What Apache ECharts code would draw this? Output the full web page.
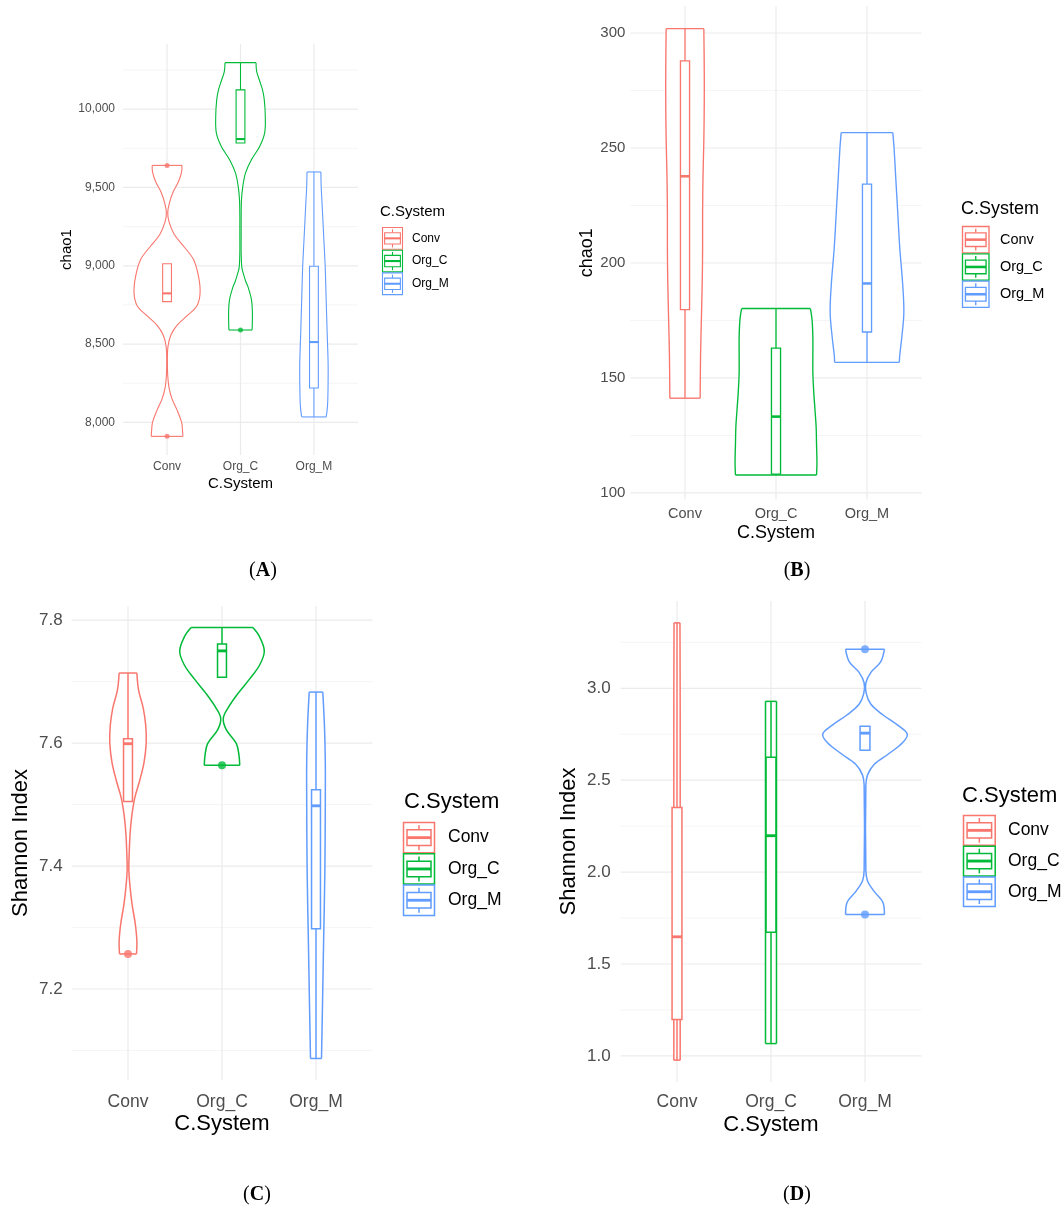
<!DOCTYPE html>
<html><head><meta charset="utf-8">
<script src="https://cdn.jsdelivr.net/npm/echarts@6/dist/echarts.min.js"></script>
<style>html,body{margin:0;padding:0;background:#fff}#c{width:1064px;height:1218px}</style>
</head><body><div id="c"></div>
<script>
// ---------- data ----------
const categories = ['Conv', 'Org_C', 'Org_M'];
const groupColors = ['#F8766D', '#00BA38', '#619CFF'];
const legendTitle = 'C.System';
const xTitle = 'C.System';

// Panel A : chao1
const A_yTicks = [8000, 8500, 9000, 9500, 10000];
const A_yMinor = [8250, 8750, 9250, 9750, 10250];
// violin profiles: [value, relative half width]
const A_Conv = [[9641,.45],[9600,.44],[9540,.35],[9470,.18],[9400,.07],[9338,.02],[9280,.06],[9200,.22],[9120,.52],[9040,.80],[8934,.95],[8828,1.0],[8743,.90],[8680,.60],[8620,.30],[8560,.12],[8488,.03],[8400,.01],[8300,.02],[8220,.06],[8150,.15],[8080,.30],[8000,.44],[7940,.47],[7911,.48]];
const A_OrgC = [[10297,.47],[10240,.49],[10180,.58],[10120,.67],[10059,.72],[9953,.75],[9847,.73],[9762,.58],[9677,.33],[9592,.15],[9507,.07],[9422,.03],[9316,.02],[9200,.02],[9083,.02],[8990,.04],[8955,.08],[8900,.16],[8870,.22],[8785,.33],[8700,.36],[8590,.35]];
const A_OrgM = [[9599,.21],[9500,.22],[9422,.24],[9210,.29],[8997,.34],[8785,.37],[8573,.40],[8361,.43],[8148,.42],[8080,.40],[8035,.37]];
// boxes: [cat, lowWhisker, q1, median, q3, highWhisker]
const A_box = [[0,8771,8771,8824,9013,9013],[1,9784,9784,9809,10123,10297],[2,8035,8220,8513,8997,9599]];
const A_out = [[0,9641],[0,7911],[1,8590]];

// Panel B : chao1
const B_yTicks = [100, 150, 200, 250, 300];
const B_yMinor = [125, 175, 225, 275];
const B_Conv = [[301.9,.46],[284.4,.47],[268.9,.47],[253.3,.46],[237.7,.44],[222.2,.43],[206.6,.43],[191.1,.42],[175.5,.40],[160,.38],[141.2,.37]];
const B_OrgC = [[180.2,.84],[175.5,.88],[167.7,.90],[160,.90],[152.2,.90],[144.4,.92],[136.6,.95],[128.8,.98],[121.1,.99],[113.3,1.0],[107.8,.99]];
const B_OrgM = [[256.7,.63],[250.2,.66],[237.7,.70],[222.2,.75],[206.6,.80],[191.1,.87],[178.6,.90],[167.7,.85],[160,.80],[156.8,.79]];
const B_box = [[0,141.2,179.7,237.7,287.9,301.9],[1,107.8,108.2,133.2,163.0,180.2],[2,156.8,170.0,191.1,234.3,256.7]];
const B_out = [];

// Panel C : Shannon Index
const C_yTicks = [7.2, 7.4, 7.6, 7.8];
const C_yMinor = [7.1, 7.3, 7.5, 7.7];
const C_Conv = [[7.714,.21],[7.686,.25],[7.657,.36],[7.628,.42],[7.600,.43],[7.569,.38],[7.540,.28],[7.511,.16],[7.482,.09],[7.453,.05],[7.424,.03],[7.394,.02],[7.365,.05],[7.336,.10],[7.307,.17],[7.278,.21],[7.257,.20]];
const C_OrgC = [[7.788,.73],[7.774,.88],[7.750,1.0],[7.727,.89],[7.704,.65],[7.680,.37],[7.657,.14],[7.640,.03],[7.622,.10],[7.599,.34],[7.581,.40],[7.564,.42]];
const C_OrgM = [[7.683,.16],[7.628,.20],[7.569,.22],[7.511,.22],[7.394,.21],[7.278,.18],[7.161,.15],[7.087,.13]];
const C_box = [[0,7.505,7.505,7.599,7.607,7.714],[1,7.707,7.707,7.750,7.761,7.788],[2,7.087,7.298,7.498,7.524,7.683]];
const C_out = [[0,7.257],[1,7.564]];

// Panel D : Shannon Index
const D_yTicks = [1.0, 1.5, 2.0, 2.5, 3.0];
const D_yMinor = [1.25, 1.75, 2.25, 2.75, 3.25];
const D_Conv = [[3.356,.07],[2.9,.075],[2.3,.075],[1.6,.075],[0.977,.075]];
const D_OrgC = [[2.929,.13],[2.5,.13],[2.0,.13],[1.5,.13],[1.067,.13]];
const D_OrgM = [[3.212,.46],[3.144,.37],[3.087,.14],[3.029,.02],[2.971,.03],[2.913,.14],[2.856,.42],[2.798,.78],[2.750,1.0],[2.702,.88],[2.644,.56],[2.587,.22],[2.529,.06],[2.471,.02],[2.010,.02],[1.952,.06],[1.894,.22],[1.837,.42],[1.769,.46]];
const D_box = [[0,0.977,1.198,1.648,2.352,3.356],[1,1.067,1.673,2.198,2.625,2.929],[2,2.663,2.663,2.756,2.794,2.794]];
const D_out = [[2,3.212],[2,1.769]];

// ---------- layout / style ----------
const FONT = "'Liberation Sans', Arial, sans-serif";
const panels = [
  {letter:'A', yName:'chao1', fmt:v=>v.toLocaleString('en-US'), ticks:A_yTicks, minor:A_yMinor, violins:[A_Conv,A_OrgC,A_OrgM], box:A_box, out:A_out,
   grid:{left:123, top:44, width:235, height:411}, yMin:7792, yMax:10416,
   tickFont:12, catFont:12, titleFont:15, yLabelMargin:8, xLabelMargin:6, xNameGap:21.5, yNameGap:37,
   lw:1.1, boxW:0.12, outSize:5,
   leg:{titleX:380, titleY:212, keyX:382, keyY:227, keyW:21, keyH:22.7, labelX:412, titleFont:15, labelFont:12},
   label:{x:263, y:571}},
  {letter:'B', yName:'chao1', fmt:v=>String(v), ticks:B_yTicks, minor:B_yMinor, violins:[B_Conv,B_OrgC,B_OrgM], box:B_box, out:B_out,
   grid:{left:630.4, top:6.1, width:291.2, height:493.3}, yMin:97.2, yMax:311.7,
   tickFont:15, catFont:14.5, titleFont:18, yLabelMargin:5, xLabelMargin:7.3, xNameGap:24.6, yNameGap:31,
   lw:1.35, boxW:0.1, outSize:6,
   leg:{titleX:961, titleY:209, keyX:962, keyY:226, keyW:27.5, keyH:27.3, labelX:1000, titleFont:18, labelFont:14.5},
   label:{x:797, y:571}},
  {letter:'C', yName:'Shannon Index', fmt:v=>v.toFixed(1), ticks:C_yTicks, minor:C_yMinor, violins:[C_Conv,C_OrgC,C_OrgM], box:C_box, out:C_out,
   grid:{left:71.6, top:606, width:300.8, height:474}, yMin:7.052, yMax:7.823,
   tickFont:17, catFont:17.5, titleFont:22, yLabelMargin:9, xLabelMargin:13.5, xNameGap:33, yNameGap:40,
   lw:1.5, boxW:0.095, outSize:8,
   leg:{titleX:404, titleY:802, keyX:403, keyY:822, keyW:32, keyH:31.3, labelX:448, titleFont:22, labelFont:17.5},
   label:{x:257, y:1195}},
  {letter:'D', yName:'Shannon Index', fmt:v=>v.toFixed(1), ticks:D_yTicks, minor:D_yMinor, violins:[D_Conv,D_OrgC,D_OrgM], box:D_box, out:D_out,
   grid:{left:620.6, top:601, width:300.8, height:481}, yMin:0.858, yMax:3.475,
   tickFont:17, catFont:17.5, titleFont:22, yLabelMargin:10, xLabelMargin:11, xNameGap:32, yNameGap:41,
   lw:1.5, boxW:0.105, outSize:8,
   leg:{titleX:962, titleY:796, keyX:963, keyY:815, keyW:32.7, keyH:30.7, labelX:1008, titleFont:22, labelFont:17.5},
   label:{x:797, y:1195}}
];
const HALF = 0.45;

// ---------- build option ----------
const grids = [], xAxes = [], yAxes = [], series = [], graphics = [];

panels.forEach((P, pi) => {
  grids.push(Object.assign({containLabel:false, outerBoundsMode:'none'}, P.grid));
  xAxes.push({type:'value', gridIndex:pi, min:-0.6, max:2.6,
    axisLine:{show:false}, axisTick:{show:false}, splitLine:{show:false},
    axisLabel:{customValues:[0,1,2], formatter:v=>categories[Math.round(v)], color:'#4D4D4D', fontSize:P.catFont, fontFamily:FONT, margin:P.xLabelMargin},
    name:xTitle, nameLocation:'middle', nameGap:P.xNameGap, nameTextStyle:{color:'#000', fontSize:P.titleFont, fontFamily:FONT}});
  yAxes.push({type:'value', gridIndex:pi, min:P.yMin, max:P.yMax,
    axisLine:{show:false}, axisTick:{show:false}, splitLine:{show:false},
    axisLabel:{customValues:P.ticks, formatter:P.fmt, color:'#4D4D4D', fontSize:P.tickFont, fontFamily:FONT, margin:P.yLabelMargin},
    name:P.yName, nameLocation:'middle', nameGap:P.yNameGap, nameTextStyle:{color:'#000', fontSize:P.titleFont, fontFamily:FONT}});

  // grid lines (through the axes' scales)
  const hData = P.ticks.map(v=>[0,v,1]).concat(P.minor.map(v=>[0,v,0]));
  series.push({type:'custom', xAxisIndex:pi, yAxisIndex:pi, silent:true, z:1, data:hData,
    renderItem:(params, api) => {
      const cs = params.coordSys; const y = api.coord([0, api.value(1)])[1];
      const major = api.value(2) === 1;
      return {type:'line', shape:{x1:cs.x, y1:y, x2:cs.x+cs.width, y2:y},
        style:{stroke: major ? '#EBEBEB' : '#F3F3F3', lineWidth: major ? 1.2 : 0.8}};
    }});
  series.push({type:'custom', xAxisIndex:pi, yAxisIndex:pi, silent:true, z:1, data:categories.map((c,i)=>[i,P.yMin]),
    renderItem:(params, api) => {
      const cs = params.coordSys; const x = api.coord([api.value(0), P.yMin])[0];
      return {type:'line', shape:{x1:x, y1:cs.y, x2:x, y2:cs.y+cs.height}, style:{stroke:'#EBEBEB', lineWidth:1.2}};
    }});

  // violins
  P.violins.forEach((prof, ci) => {
    series.push({type:'custom', name:categories[ci], xAxisIndex:pi, yAxisIndex:pi, silent:true, z:3,
      data: prof.map(p=>[ci, p[0], p[1]]),
      renderItem:(params, api) => {
        if (params.dataIndex !== 0) return null;
        const R = prof.map(p => api.coord([ci + p[1]*HALF, p[0]]));
        const L = prof.map(p => api.coord([ci - p[1]*HALF, p[0]]));
        const n = R.length;
        const ls = {stroke:groupColors[ci], lineWidth:P.lw, fill:null};
        return {type:'group', children:[
          {type:'polygon', shape:{points:R.concat(L.slice().reverse()), smooth:0}, style:{fill:'#fff', stroke:null}},
          {type:'polyline', shape:{points:R, smooth:0.35}, style:ls},
          {type:'polyline', shape:{points:L, smooth:0.35}, style:ls},
          {type:'line', shape:{x1:L[0][0], y1:L[0][1], x2:R[0][0], y2:R[0][1]}, style:ls},
          {type:'line', shape:{x1:L[n-1][0], y1:L[n-1][1], x2:R[n-1][0], y2:R[n-1][1]}, style:ls}
        ]};
      }});
  });

  // boxplots
  series.push({type:'custom', xAxisIndex:pi, yAxisIndex:pi, silent:true, z:4, data:P.box,
    renderItem:(params, api) => {
      const c = api.value(0), lo = api.value(1), q1 = api.value(2), med = api.value(3), q3 = api.value(4), hi = api.value(5);
      const col = groupColors[c];
      const tl = api.coord([c - P.boxW/2, q3]);
      const br = api.coord([c + P.boxW/2, q1]);
      const cx = api.coord([c, med])[0];
      const yMed = api.coord([c, med])[1];
      const yHi = api.coord([c, hi])[1], yLo = api.coord([c, lo])[1];
      const ls = {stroke:col, lineWidth:P.lw};
      return {type:'group', children:[
        {type:'line', shape:{x1:cx, y1:yHi, x2:cx, y2:tl[1]}, style:ls},
        {type:'line', shape:{x1:cx, y1:br[1], x2:cx, y2:yLo}, style:ls},
        {type:'rect', shape:{x:tl[0], y:tl[1], width:br[0]-tl[0], height:br[1]-tl[1]}, style:{fill:'#fff', stroke:col, lineWidth:P.lw}},
        {type:'line', shape:{x1:tl[0], y1:yMed, x2:br[0], y2:yMed}, style:{stroke:col, lineWidth:P.lw*1.9}}
      ]};
    }});

  // outliers
  if (P.out.length) series.push({type:'scatter', xAxisIndex:pi, yAxisIndex:pi, silent:true, z:5, data:P.out,
    symbol:'circle', symbolSize:P.outSize, itemStyle:{color:p=>groupColors[p.data[0]]}});

  // legend (ggplot-like violin + boxplot key)
  const G = P.leg;
  graphics.push({type:'text', x:G.titleX, y:G.titleY, style:{text:legendTitle, font:`${G.titleFont}px ${FONT}`, fill:'#000', align:'left', verticalAlign:'middle'}});
  categories.forEach((name, ci) => {
    const x0 = G.keyX, y0 = G.keyY + ci*G.keyH, w = G.keyW, h = G.keyH, col = groupColors[ci];
    const ls = {stroke:col, lineWidth:P.lw, fill:null};
    graphics.push({type:'rect', shape:{x:x0+0.5, y:y0+0.5, width:w-1, height:h-1}, style:{fill:'#fff', stroke:col, lineWidth:P.lw}});
    graphics.push({type:'line', shape:{x1:x0+w/2, y1:y0+h*0.1, x2:x0+w/2, y2:y0+h*0.25}, style:ls});
    graphics.push({type:'line', shape:{x1:x0+w/2, y1:y0+h*0.75, x2:x0+w/2, y2:y0+h*0.9}, style:ls});
    graphics.push({type:'rect', shape:{x:x0+w*0.125, y:y0+h*0.25, width:w*0.75, height:h*0.5}, style:{fill:'#fff', stroke:col, lineWidth:P.lw}});
    graphics.push({type:'line', shape:{x1:x0+w*0.125, y1:y0+h*0.5, x2:x0+w*0.875, y2:y0+h*0.5}, style:{stroke:col, lineWidth:P.lw*1.9}});
    graphics.push({type:'text', x:G.labelX, y:y0+h/2, style:{text:name, font:`${G.labelFont}px ${FONT}`, fill:'#000', align:'left', verticalAlign:'middle'}});
  });

  // panel label
  graphics.push({type:'text', x:P.label.x, y:P.label.y, style:{
    text:`{p|(}{b|${P.letter}}{p|)}`, align:'center', verticalAlign:'middle',
    rich:{p:{fontFamily:"'Liberation Serif', 'DejaVu Serif', serif", fontSize:20, fill:'#000'},
          b:{fontFamily:"'Liberation Serif', 'DejaVu Serif', serif", fontSize:20, fontWeight:'bold', fill:'#000'}}}});
});

const chart = echarts.init(document.getElementById('c'), null, {renderer:'canvas'});
chart.setOption({animation:false, backgroundColor:'#fff', grid:grids, xAxis:xAxes, yAxis:yAxes, series:series, graphic:graphics});
</script></body></html>
